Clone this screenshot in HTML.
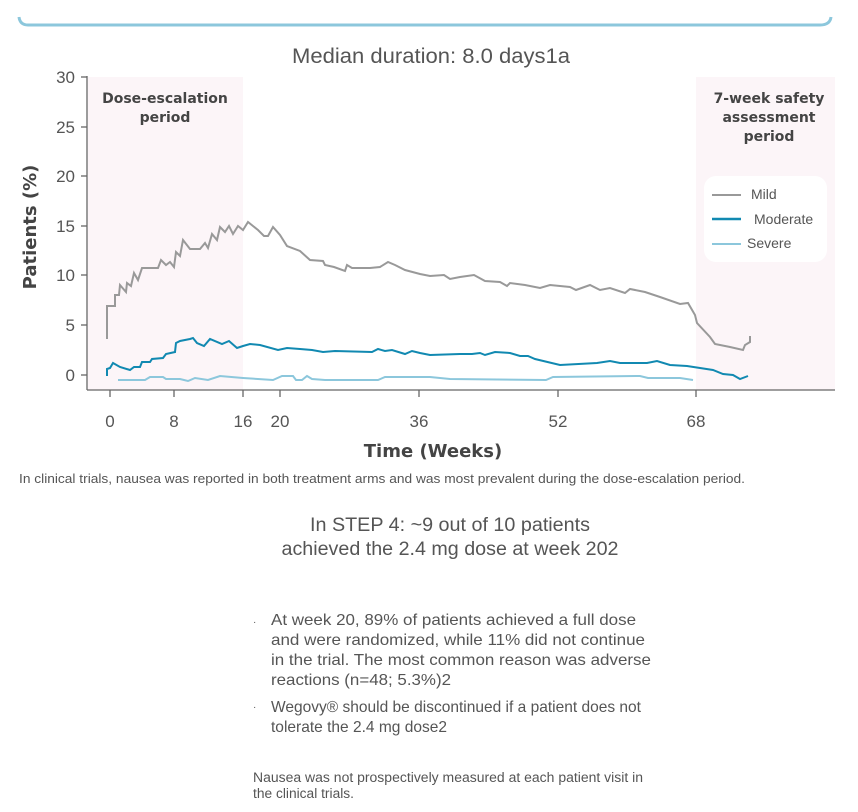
<!DOCTYPE html>
<html><head><meta charset="utf-8"><style>
html,body{margin:0;padding:0;background:#fff;width:858px;height:812px;overflow:hidden}
svg{display:block}
.n{font-family:"Liberation Sans",sans-serif;fill:#555}
.s{font-family:"Liberation Sans",sans-serif}
.b{font-family:"DejaVu Sans","Liberation Sans",sans-serif;font-weight:bold;fill:#444}
</style></head><body>
<svg width="858" height="812" viewBox="0 0 858 812" xmlns="http://www.w3.org/2000/svg">
<path d="M19 17 Q20 25 28 25 L820 25 Q830 25 831 17" fill="none" stroke="#8cc7dc" stroke-width="3"/>
<text x="431" y="63" text-anchor="middle" class="s" font-size="21" fill="#555" textLength="278" lengthAdjust="spacingAndGlyphs">Median duration: 8.0 days1a</text>
<rect x="88" y="77" width="155" height="313" fill="#fcf5f8"/>
<rect x="696" y="77" width="139" height="313" fill="#fcf5f8"/>
<text x="165" y="103" text-anchor="middle" class="b" font-size="14">Dose-escalation</text>
<text x="165" y="122" text-anchor="middle" class="b" font-size="14">period</text>
<text x="769" y="103" text-anchor="middle" class="b" font-size="14">7-week safety</text>
<text x="769" y="122" text-anchor="middle" class="b" font-size="14">assessment</text>
<text x="769" y="141" text-anchor="middle" class="b" font-size="14">period</text>
<rect x="704" y="176" width="123" height="86" rx="12" fill="#fff"/>
<line x1="712" y1="195" x2="741" y2="195" stroke="#999" stroke-width="2"/>
<line x1="712" y1="219" x2="741" y2="219" stroke="#1189b1" stroke-width="2.5"/>
<line x1="712" y1="244" x2="741" y2="244" stroke="#8cc7dc" stroke-width="2"/>
<text x="751" y="199" class="s" font-size="14" fill="#555">Mild</text>
<text x="754" y="224" class="s" font-size="14" fill="#555">Moderate</text>
<text x="747" y="248" class="s" font-size="14" fill="#555">Severe</text>
<g stroke="#666" stroke-width="1.3">
<line x1="87" y1="76" x2="87" y2="390"/><line x1="87" y1="390" x2="835" y2="390"/>
<line x1="81" y1="77" x2="87" y2="77"/><line x1="81" y1="127" x2="87" y2="127"/><line x1="81" y1="176" x2="87" y2="176"/><line x1="81" y1="226" x2="87" y2="226"/><line x1="81" y1="275" x2="87" y2="275"/><line x1="81" y1="325" x2="87" y2="325"/><line x1="81" y1="375" x2="87" y2="375"/>
<line x1="110" y1="390" x2="110" y2="397"/><line x1="174" y1="390" x2="174" y2="397"/><line x1="243" y1="390" x2="243" y2="397"/><line x1="280" y1="390" x2="280" y2="397"/><line x1="419" y1="390" x2="419" y2="397"/><line x1="558" y1="390" x2="558" y2="397"/><line x1="696" y1="390" x2="696" y2="397"/>
</g>
<g class="s" font-size="17" fill="#555" text-anchor="end">
<text x="75" y="83">30</text><text x="75" y="133">25</text><text x="75" y="182">20</text><text x="75" y="232">15</text><text x="75" y="281">10</text><text x="75" y="331">5</text><text x="75" y="381">0</text>
</g>
<g class="s" font-size="17" fill="#555" text-anchor="middle">
<text x="110" y="427">0</text><text x="174" y="427">8</text><text x="243" y="427">16</text><text x="280" y="427">20</text><text x="419" y="427">36</text><text x="558" y="427">52</text><text x="696" y="427">68</text>
</g>
<text x="433" y="457" text-anchor="middle" class="b" font-size="18">Time (Weeks)</text>
<text transform="translate(36 227) rotate(-90)" text-anchor="middle" class="b" font-size="18">Patients (%)</text>
<polyline fill="none" stroke="#999" stroke-width="2" points="107,339 107,306 115,306 115,295 119,295 120,285 126,292 127,283 131,286 134,273 138,280 142,268 148,268 158,268 161,260 166,265 170,262 174,267 176,252 180,256 183,240 190,249 200,249 205,243 208,248 212,234 217,240 220,227 225,232 229,226 233,234 238,226 243,230 248,222 258,230 264,236 268,236 273,227 280,235 287,246 300,251 310,260 323,261 325,265 334,267 345,271 347,265 352,268 370,268 380,267 388,262 395,265 405,270 420,274 430,276 444,275 450,279 460,277 474,275 485,281 500,282 507,286 510,283 525,285 540,288 550,285 570,287 576,290 590,285 600,290 610,288 625,293 630,289 645,292 660,297 680,304 688,303 695,315 697,323 710,337 715,344 730,347 743,350 745,345 750,342 750,336"/>
<polyline fill="none" stroke="#1189b1" stroke-width="2" points="107,376 107,369 110,368 113,363 120,367 130,370 134,367 140,367 142,362 150,362 152,359 163,358 166,354 175,352 176,343 180,341 190,339 193,338 197,343 204,346 210,339 222,344 229,341 237,348 243,346 250,344 260,345 278,350 287,348 300,349 312,350 323,352 335,351 372,352 378,349 385,351 392,350 405,354 412,351 420,353 430,355 460,354 472,354 480,353 485,355 495,352 510,353 520,356 528,356 535,359 560,365 597,363 610,361 620,363 647,363 657,361 670,365 687,366 713,370 723,374 733,375 740,379 748,376"/>
<polyline fill="none" stroke="#8cc7dc" stroke-width="2" points="118,380 145,380 150,377 163,377 166,379 180,379 188,381 195,378 208,380 220,376 243,378 273,380 282,376 293,376 296,380 302,380 307,376 312,379 325,380 378,380 385,377 430,377 450,379 546,380 553,377 640,376 648,378 680,378 693,380"/>
<text x="19" y="483" class="n" font-size="13" textLength="726" lengthAdjust="spacingAndGlyphs">In clinical trials, nausea was reported in both treatment arms and was most prevalent during the dose-escalation period.</text>
<text x="450" y="531" text-anchor="middle" class="n" font-size="19" textLength="280" lengthAdjust="spacingAndGlyphs">In STEP 4: ~9 out of 10 patients</text>
<text x="450" y="555" text-anchor="middle" class="n" font-size="19" textLength="337" lengthAdjust="spacingAndGlyphs">achieved the 2.4 mg dose at week 202</text>
<g class="n" font-size="16">
<text x="253" y="625" font-size="10">·</text>
<text x="271" y="625" textLength="365" lengthAdjust="spacingAndGlyphs">At week 20, 89% of patients achieved a full dose</text>
<text x="271" y="645" textLength="374" lengthAdjust="spacingAndGlyphs">and were randomized, while 11% did not continue</text>
<text x="271" y="665" textLength="380" lengthAdjust="spacingAndGlyphs">in the trial. The most common reason was adverse</text>
<text x="271" y="685" textLength="180" lengthAdjust="spacingAndGlyphs">reactions (n=48; 5.3%)2</text>
<text x="253" y="710" font-size="10">·</text>
<text x="271" y="712" textLength="370" lengthAdjust="spacingAndGlyphs">Wegovy® should be discontinued if a patient does not</text>
<text x="271" y="732" textLength="176" lengthAdjust="spacingAndGlyphs">tolerate the 2.4 mg dose2</text>
</g>
<text x="253" y="782" class="n" font-size="13.5" textLength="390" lengthAdjust="spacingAndGlyphs">Nausea was not prospectively measured at each patient visit in</text>
<text x="253" y="798" class="n" font-size="13.5" textLength="101" lengthAdjust="spacingAndGlyphs">the clinical trials.</text>
</svg>
</body></html>
